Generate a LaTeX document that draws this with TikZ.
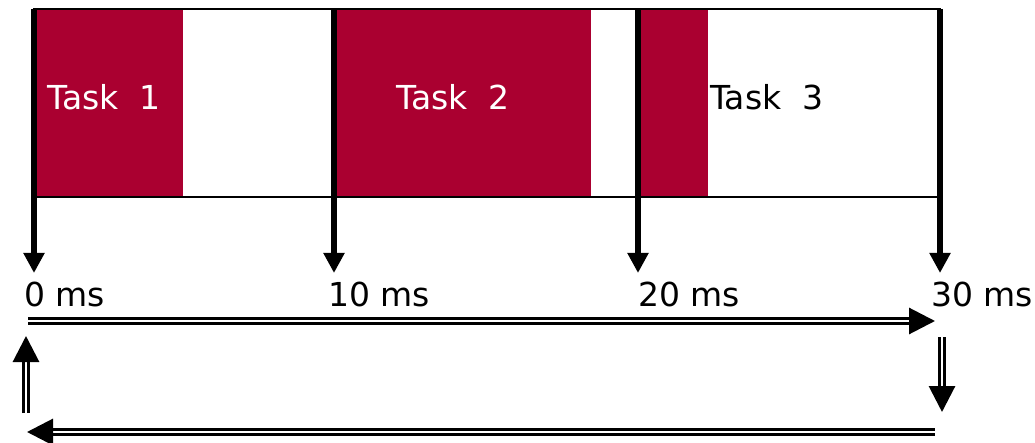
\documentclass[tikz,border=0pt]{standalone}
\usepackage{fontspec}
\setmainfont{DejaVu Sans}
\usetikzlibrary{arrows.meta}
\definecolor{taskred}{HTML}{AA0030}

\begin{document}
\begin{tikzpicture}[%
      x=1pt, y=-1pt,
      every node/.style={font=\fontsize{33}{39}\selectfont, inner sep=0pt},
      tick/.style={line width=6pt, -{Triangle[length=20pt,width=20pt]}},
      flow/.style={double, line width=3pt, double distance=2.5pt,
        -{Triangle[length=26pt,width=26pt]}},
      ]
      \useasboundingbox (0,0) rectangle (1035,443);

      % busy time of the tasks
      \fill [taskred] (36,10) rectangle (183,197);
      \fill [taskred] (336,10) rectangle (591,197);
      \fill [taskred] (640,10) rectangle (708,197);
      \draw [line width=2.5pt] (34,9) rectangle (940,197);

      \node [text=white] (task1) at (104,97) {Task\ \ 1};
      \node [text=white] (task2) at (453,97) {Task\ \ 2};
      \node [anchor=west] (task3) at (710,97) {Task\ \ 3};

      % time marks
      \node [anchor=base west] (t0) at (24,307) {0 ms};
      \node [anchor=base west] (t10) at (328,307) {10 ms};
      \node [anchor=base west] (t20) at (638,307) {20 ms};
      \node [anchor=base west] (t30) at (931,307) {30 ms};

      \coordinate (s0) at (34,9);
      \coordinate (s10) at (334,9);
      \coordinate (s20) at (638,9);
      \coordinate (s30) at (940,9);
      \coordinate (e0) at (34,273);
      \coordinate (e10) at (334,273);
      \coordinate (e20) at (638,273);
      \coordinate (e30) at (940,273);

      \draw [tick] (s0) -- (e0);
      \draw [tick] (s10) -- (e10);
      \draw [tick] (s20) -- (e20);
      \draw [tick] (s30) -- (e30);

      % period loop
      \coordinate (c1) at (28,321);
      \coordinate (c2) at (935,321);
      \coordinate (c3) at (942,337);
      \coordinate (c4) at (942,412);
      \coordinate (c5) at (935,432);
      \coordinate (c6) at (27,432);
      \coordinate (c7) at (26,413);
      \coordinate (c8) at (26,336);

      \draw [flow] (c1) -- (c2);
      \draw [flow] (c3) -- (c4);
      \draw [flow] (c5) -- (c6);
      \draw [flow] (c7) -- (c8);
\end{tikzpicture}
\end{document}
